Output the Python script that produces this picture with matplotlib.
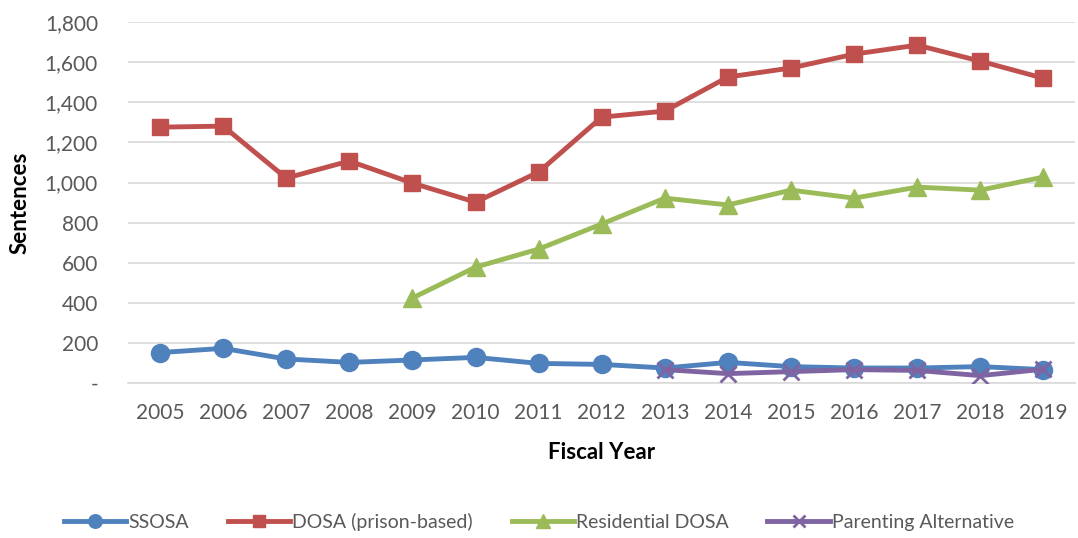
import matplotlib
matplotlib.use("Agg")
import matplotlib.pyplot as plt
from matplotlib.ticker import FuncFormatter, MultipleLocator

years = [str(y) for y in range(2005, 2020)]
ssosa = [152, 173, 120, 103, 115, 128, 98, 93, 75, 103, 82, 75, 75, 82, 67]
dosa = [1276, 1281, 1022, 1107, 997, 902, 1052, 1326, 1356, 1526, 1571, 1640, 1685, 1605, 1520]
res_years = years[4:]
res_dosa = [424, 578, 668, 793, 922, 888, 962, 922, 977, 962, 1027]
pa_years = years[8:]
parenting = [67, 47, 57, 67, 63, 37, 69]

plt.rcParams['font.family'] = ['Lato', 'DejaVu Sans']

fig = plt.figure(figsize=(10.78, 5.38), dpi=100)
ax = fig.add_axes([0.1192, 0.288, 0.878, 0.671])

x = list(range(len(years)))
xi = {y: i for i, y in enumerate(years)}

ax.plot(x, ssosa, color='#4F81BD', lw=3.5, marker='o', ms=13, label='SSOSA', zorder=3)
ax.plot(x, dosa, color='#C0504D', lw=3.5, marker='s', ms=12, label='DOSA (prison-based)', zorder=3)
ax.plot([xi[y] for y in res_years], res_dosa, color='#9BBB59', lw=3.5, marker='^', ms=13,
        label='Residential DOSA', zorder=3)
ax.plot([xi[y] for y in pa_years], parenting, color='#8064A2', lw=3.5, marker='x', ms=12, mew=2,
        label='Parenting Alternative', zorder=4)

ax.set_xlim(-0.5, len(years) - 0.5)
ax.set_ylim(0, 1800)
ax.yaxis.set_major_locator(MultipleLocator(200))
ax.yaxis.set_major_formatter(FuncFormatter(lambda v, p: '-' if v == 0 else f'{int(v):,}'))
ax.set_xticks(x)
ax.set_xticklabels(years)

ax.grid(axis='y', color='#D9D9D9', lw=1.2, zorder=0)
ax.set_axisbelow(True)
for s in ['top', 'right', 'left']:
    ax.spines[s].set_visible(False)
ax.spines['bottom'].set_color('#D9D9D9')
ax.spines['bottom'].set_linewidth(1.2)
ax.tick_params(axis='both', length=0, labelsize=15, colors='#595959')
ax.tick_params(axis='x', pad=14)
ax.tick_params(axis='y', pad=22)

ax.set_ylabel('Sentences', fontsize=16, fontweight='bold', labelpad=10)
ax.set_xlabel('Fiscal Year', fontsize=16, fontweight='bold', labelpad=14)

leg = fig.legend(loc='center', bbox_to_anchor=(0.5, 0.03), ncol=4, frameon=False,
                 fontsize=14, handlelength=3.2, columnspacing=2.0, handletextpad=0.1,
                 markerscale=0.75)
for t in leg.get_texts():
    t.set_color('#595959')

fig.savefig('out.png', dpi=100)
